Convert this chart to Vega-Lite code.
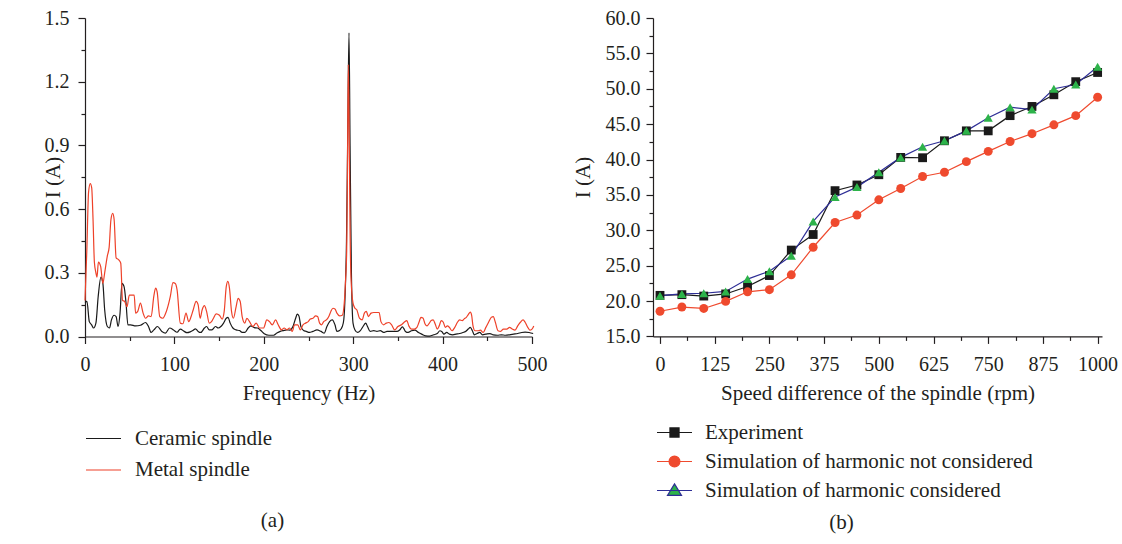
{
  "$schema": "https://vega.github.io/schema/vega-lite/v6.json",
  "background": "white",
  "padding": {"left": 42, "top": 8, "right": 2, "bottom": 2},
  "bounds": "flush",
  "spacing": 121,
  "resolve": {
    "scale": {"color": "independent", "shape": "independent", "fill": "independent"},
    "legend": {"color": "independent", "shape": "independent", "fill": "independent"}
  },
  "config": {
    "font": "Liberation Serif",
    "view": {"stroke": null},
    "axis": {
      "labelFont": "Liberation Serif", "titleFont": "Liberation Serif",
      "labelFontSize": 20, "titleFontSize": 21, "titleFontWeight": "normal",
      "labelColor": "#231f20", "titleColor": "#231f20",
      "domainColor": "#231f20", "tickColor": "#231f20",
      "domainWidth": 1.2, "tickWidth": 1.2, "grid": false
    },
    "legend": {"labelFont": "Liberation Serif", "labelFontSize": 21, "labelColor": "#231f20", "padding": 0, "labelLimit": 500},
    "title": {"font": "Liberation Serif", "fontSize": 21, "fontWeight": "normal", "color": "#231f20"}
  },
  "datasets": {
    "spectrum": [
      {"f":0,"s":"Ceramic spindle","i":0.16},{"f":2.2,"s":"Ceramic spindle","i":0.165},{"f":4.8,"s":"Ceramic spindle","i":0.07},{"f":7.4,"s":"Ceramic spindle","i":0.055},{"f":9.6,"s":"Ceramic spindle","i":0.04},{"f":12.2,"s":"Ceramic spindle","i":0.063},{"f":14.8,"s":"Ceramic spindle","i":0.19},{"f":17.8,"s":"Ceramic spindle","i":0.28},{"f":20,"s":"Ceramic spindle","i":0.25},{"f":22,"s":"Ceramic spindle","i":0.126},{"f":25,"s":"Ceramic spindle","i":0.047},{"f":27.4,"s":"Ceramic spindle","i":0.04},{"f":29.6,"s":"Ceramic spindle","i":0.078},{"f":32.6,"s":"Ceramic spindle","i":0.1},{"f":34.8,"s":"Ceramic spindle","i":0.094},{"f":37,"s":"Ceramic spindle","i":0.047},{"f":39.2,"s":"Ceramic spindle","i":0.11},{"f":41.4,"s":"Ceramic spindle","i":0.25},{"f":43.7,"s":"Ceramic spindle","i":0.235},{"f":45.9,"s":"Ceramic spindle","i":0.157},{"f":48,"s":"Ceramic spindle","i":0.055},{"f":51,"s":"Ceramic spindle","i":0.055},{"f":56.6,"s":"Ceramic spindle","i":0.05},{"f":62,"s":"Ceramic spindle","i":0.053},{"f":67.7,"s":"Ceramic spindle","i":0.066},{"f":71,"s":"Ceramic spindle","i":0.047},{"f":74,"s":"Ceramic spindle","i":0.019},{"f":77,"s":"Ceramic spindle","i":0.031},{"f":81,"s":"Ceramic spindle","i":0.047},{"f":86,"s":"Ceramic spindle","i":0.024},{"f":90,"s":"Ceramic spindle","i":0.016},{"f":94.7,"s":"Ceramic spindle","i":0.04},{"f":99,"s":"Ceramic spindle","i":0.031},{"f":103,"s":"Ceramic spindle","i":0.02},{"f":106.6,"s":"Ceramic spindle","i":0.035},{"f":111,"s":"Ceramic spindle","i":0.024},{"f":114,"s":"Ceramic spindle","i":0.018},{"f":117.7,"s":"Ceramic spindle","i":0.022},{"f":120.6,"s":"Ceramic spindle","i":0.028},{"f":123.6,"s":"Ceramic spindle","i":0.036},{"f":126.5,"s":"Ceramic spindle","i":0.024},{"f":129.5,"s":"Ceramic spindle","i":0.019},{"f":133.6,"s":"Ceramic spindle","i":0.04},{"f":136,"s":"Ceramic spindle","i":0.047},{"f":139,"s":"Ceramic spindle","i":0.031},{"f":142,"s":"Ceramic spindle","i":0.031},{"f":146,"s":"Ceramic spindle","i":0.047},{"f":149,"s":"Ceramic spindle","i":0.04},{"f":152,"s":"Ceramic spindle","i":0.047},{"f":155,"s":"Ceramic spindle","i":0.063},{"f":158,"s":"Ceramic spindle","i":0.086},{"f":160,"s":"Ceramic spindle","i":0.09},{"f":162.4,"s":"Ceramic spindle","i":0.063},{"f":165.4,"s":"Ceramic spindle","i":0.04},{"f":169,"s":"Ceramic spindle","i":0.031},{"f":172.8,"s":"Ceramic spindle","i":0.028},{"f":175.8,"s":"Ceramic spindle","i":0.019},{"f":179,"s":"Ceramic spindle","i":0.019},{"f":182.5,"s":"Ceramic spindle","i":0.04},{"f":185.5,"s":"Ceramic spindle","i":0.05},{"f":189.3,"s":"Ceramic spindle","i":0.042},{"f":193,"s":"Ceramic spindle","i":0.04},{"f":196.7,"s":"Ceramic spindle","i":0.028},{"f":200.5,"s":"Ceramic spindle","i":0.013},{"f":205.7,"s":"Ceramic spindle","i":0.006},{"f":211,"s":"Ceramic spindle","i":0.006},{"f":214.6,"s":"Ceramic spindle","i":0.016},{"f":218.4,"s":"Ceramic spindle","i":0.024},{"f":222,"s":"Ceramic spindle","i":0.028},{"f":225.8,"s":"Ceramic spindle","i":0.031},{"f":229,"s":"Ceramic spindle","i":0.03},{"f":232.6,"s":"Ceramic spindle","i":0.047},{"f":235.6,"s":"Ceramic spindle","i":0.086},{"f":237.4,"s":"Ceramic spindle","i":0.105},{"f":239.3,"s":"Ceramic spindle","i":0.097},{"f":241.5,"s":"Ceramic spindle","i":0.047},{"f":244.5,"s":"Ceramic spindle","i":0.028},{"f":247.5,"s":"Ceramic spindle","i":0.024},{"f":251,"s":"Ceramic spindle","i":0.019},{"f":255,"s":"Ceramic spindle","i":0.024},{"f":259.5,"s":"Ceramic spindle","i":0.031},{"f":264,"s":"Ceramic spindle","i":0.024},{"f":267.7,"s":"Ceramic spindle","i":0.016},{"f":270.6,"s":"Ceramic spindle","i":0.047},{"f":273.6,"s":"Ceramic spindle","i":0.07},{"f":276.6,"s":"Ceramic spindle","i":0.078},{"f":279.6,"s":"Ceramic spindle","i":0.055},{"f":281.8,"s":"Ceramic spindle","i":0.024},{"f":284.8,"s":"Ceramic spindle","i":0.028},{"f":287.8,"s":"Ceramic spindle","i":0.047},{"f":289.5,"s":"Ceramic spindle","i":0.08},{"f":291,"s":"Ceramic spindle","i":0.2},{"f":292.5,"s":"Ceramic spindle","i":0.45},{"f":294,"s":"Ceramic spindle","i":1.0},{"f":295.3,"s":"Ceramic spindle","i":1.43},{"f":296.5,"s":"Ceramic spindle","i":0.9},{"f":298,"s":"Ceramic spindle","i":0.3},{"f":299.8,"s":"Ceramic spindle","i":0.063},{"f":302,"s":"Ceramic spindle","i":0.031},{"f":305,"s":"Ceramic spindle","i":0.019},{"f":308,"s":"Ceramic spindle","i":0.028},{"f":311,"s":"Ceramic spindle","i":0.047},{"f":314,"s":"Ceramic spindle","i":0.063},{"f":316,"s":"Ceramic spindle","i":0.047},{"f":319,"s":"Ceramic spindle","i":0.024},{"f":323,"s":"Ceramic spindle","i":0.028},{"f":326.6,"s":"Ceramic spindle","i":0.024},{"f":330.4,"s":"Ceramic spindle","i":0.028},{"f":334,"s":"Ceramic spindle","i":0.019},{"f":337.8,"s":"Ceramic spindle","i":0.024},{"f":341.5,"s":"Ceramic spindle","i":0.024},{"f":345.3,"s":"Ceramic spindle","i":0.024},{"f":349,"s":"Ceramic spindle","i":0.024},{"f":352,"s":"Ceramic spindle","i":0.031},{"f":355,"s":"Ceramic spindle","i":0.045},{"f":356.5,"s":"Ceramic spindle","i":0.038},{"f":358.4,"s":"Ceramic spindle","i":0.024},{"f":361.5,"s":"Ceramic spindle","i":0.019},{"f":365.2,"s":"Ceramic spindle","i":0.027},{"f":369,"s":"Ceramic spindle","i":0.03},{"f":373,"s":"Ceramic spindle","i":0.019},{"f":376.6,"s":"Ceramic spindle","i":0.011},{"f":381,"s":"Ceramic spindle","i":0.003},{"f":385.7,"s":"Ceramic spindle","i":0.002},{"f":390,"s":"Ceramic spindle","i":0.008},{"f":394,"s":"Ceramic spindle","i":0.014},{"f":397,"s":"Ceramic spindle","i":0.027},{"f":399.3,"s":"Ceramic spindle","i":0.022},{"f":401.5,"s":"Ceramic spindle","i":0.011},{"f":404.6,"s":"Ceramic spindle","i":0.019},{"f":407.6,"s":"Ceramic spindle","i":0.011},{"f":411.4,"s":"Ceramic spindle","i":0.008},{"f":415,"s":"Ceramic spindle","i":0.011},{"f":419,"s":"Ceramic spindle","i":0.014},{"f":422.7,"s":"Ceramic spindle","i":0.019},{"f":425.7,"s":"Ceramic spindle","i":0.024},{"f":428.7,"s":"Ceramic spindle","i":0.035},{"f":431,"s":"Ceramic spindle","i":0.043},{"f":433.3,"s":"Ceramic spindle","i":0.027},{"f":435.5,"s":"Ceramic spindle","i":0.008},{"f":438.6,"s":"Ceramic spindle","i":0.014},{"f":441.6,"s":"Ceramic spindle","i":0.019},{"f":444.6,"s":"Ceramic spindle","i":0.008},{"f":448.4,"s":"Ceramic spindle","i":0.011},{"f":453,"s":"Ceramic spindle","i":0.014},{"f":456.7,"s":"Ceramic spindle","i":0.008},{"f":461.3,"s":"Ceramic spindle","i":0.006},{"f":465.8,"s":"Ceramic spindle","i":0.008},{"f":470.3,"s":"Ceramic spindle","i":0.006},{"f":475,"s":"Ceramic spindle","i":0.008},{"f":479.4,"s":"Ceramic spindle","i":0.011},{"f":484,"s":"Ceramic spindle","i":0.014},{"f":488.5,"s":"Ceramic spindle","i":0.019},{"f":492.3,"s":"Ceramic spindle","i":0.021},{"f":496.8,"s":"Ceramic spindle","i":0.019},{"f":501.3,"s":"Ceramic spindle","i":0.014},
      {"f":0,"s":"Metal spindle","i":0.17},{"f":2,"s":"Metal spindle","i":0.4},{"f":4,"s":"Metal spindle","i":0.68},{"f":5.9,"s":"Metal spindle","i":0.72},{"f":7.5,"s":"Metal spindle","i":0.7},{"f":9,"s":"Metal spindle","i":0.55},{"f":10.5,"s":"Metal spindle","i":0.35},{"f":12.2,"s":"Metal spindle","i":0.3},{"f":13.4,"s":"Metal spindle","i":0.28},{"f":15,"s":"Metal spindle","i":0.35},{"f":17.5,"s":"Metal spindle","i":0.33},{"f":20,"s":"Metal spindle","i":0.25},{"f":22,"s":"Metal spindle","i":0.3},{"f":25,"s":"Metal spindle","i":0.38},{"f":27,"s":"Metal spindle","i":0.42},{"f":29,"s":"Metal spindle","i":0.55},{"f":31,"s":"Metal spindle","i":0.58},{"f":32.6,"s":"Metal spindle","i":0.55},{"f":34.8,"s":"Metal spindle","i":0.37},{"f":38,"s":"Metal spindle","i":0.36},{"f":40,"s":"Metal spindle","i":0.345},{"f":42,"s":"Metal spindle","i":0.17},{"f":44.4,"s":"Metal spindle","i":0.165},{"f":47,"s":"Metal spindle","i":0.14},{"f":49.6,"s":"Metal spindle","i":0.195},{"f":55,"s":"Metal spindle","i":0.195},{"f":56.6,"s":"Metal spindle","i":0.11},{"f":59,"s":"Metal spindle","i":0.118},{"f":62,"s":"Metal spindle","i":0.157},{"f":65,"s":"Metal spindle","i":0.11},{"f":67.7,"s":"Metal spindle","i":0.086},{"f":71,"s":"Metal spindle","i":0.097},{"f":74,"s":"Metal spindle","i":0.094},{"f":77,"s":"Metal spindle","i":0.19},{"f":79,"s":"Metal spindle","i":0.228},{"f":80.7,"s":"Metal spindle","i":0.21},{"f":83.6,"s":"Metal spindle","i":0.094},{"f":87,"s":"Metal spindle","i":0.086},{"f":91,"s":"Metal spindle","i":0.118},{"f":95.5,"s":"Metal spindle","i":0.19},{"f":98.4,"s":"Metal spindle","i":0.254},{"f":101,"s":"Metal spindle","i":0.25},{"f":103,"s":"Metal spindle","i":0.22},{"f":106.6,"s":"Metal spindle","i":0.063},{"f":109.5,"s":"Metal spindle","i":0.06},{"f":113,"s":"Metal spindle","i":0.11},{"f":116,"s":"Metal spindle","i":0.07},{"f":118.7,"s":"Metal spindle","i":0.094},{"f":121,"s":"Metal spindle","i":0.125},{"f":124.3,"s":"Metal spindle","i":0.165},{"f":126.5,"s":"Metal spindle","i":0.15},{"f":128.8,"s":"Metal spindle","i":0.086},{"f":131,"s":"Metal spindle","i":0.125},{"f":133.6,"s":"Metal spindle","i":0.145},{"f":136,"s":"Metal spindle","i":0.118},{"f":139,"s":"Metal spindle","i":0.063},{"f":141.5,"s":"Metal spindle","i":0.07},{"f":143.7,"s":"Metal spindle","i":0.086},{"f":146.7,"s":"Metal spindle","i":0.107},{"f":150.4,"s":"Metal spindle","i":0.1},{"f":153.4,"s":"Metal spindle","i":0.082},{"f":155.7,"s":"Metal spindle","i":0.118},{"f":158,"s":"Metal spindle","i":0.235},{"f":159.8,"s":"Metal spindle","i":0.26},{"f":161.6,"s":"Metal spindle","i":0.228},{"f":163.9,"s":"Metal spindle","i":0.118},{"f":166,"s":"Metal spindle","i":0.086},{"f":169,"s":"Metal spindle","i":0.14},{"f":171.3,"s":"Metal spindle","i":0.18},{"f":173.6,"s":"Metal spindle","i":0.165},{"f":175.8,"s":"Metal spindle","i":0.094},{"f":178.8,"s":"Metal spindle","i":0.063},{"f":181,"s":"Metal spindle","i":0.086},{"f":184,"s":"Metal spindle","i":0.07},{"f":187.8,"s":"Metal spindle","i":0.047},{"f":191.5,"s":"Metal spindle","i":0.063},{"f":195.2,"s":"Metal spindle","i":0.04},{"f":199.7,"s":"Metal spindle","i":0.04},{"f":203.4,"s":"Metal spindle","i":0.078},{"f":206.4,"s":"Metal spindle","i":0.07},{"f":209.4,"s":"Metal spindle","i":0.055},{"f":213.2,"s":"Metal spindle","i":0.078},{"f":216.1,"s":"Metal spindle","i":0.055},{"f":219.9,"s":"Metal spindle","i":0.031},{"f":222.8,"s":"Metal spindle","i":0.04},{"f":225.8,"s":"Metal spindle","i":0.031},{"f":228.8,"s":"Metal spindle","i":0.04},{"f":231.8,"s":"Metal spindle","i":0.024},{"f":234.4,"s":"Metal spindle","i":0.055},{"f":238,"s":"Metal spindle","i":0.055},{"f":240.8,"s":"Metal spindle","i":0.031},{"f":243.8,"s":"Metal spindle","i":0.055},{"f":246.7,"s":"Metal spindle","i":0.063},{"f":249.7,"s":"Metal spindle","i":0.07},{"f":252,"s":"Metal spindle","i":0.082},{"f":255,"s":"Metal spindle","i":0.086},{"f":258,"s":"Metal spindle","i":0.097},{"f":260.2,"s":"Metal spindle","i":0.094},{"f":262.4,"s":"Metal spindle","i":0.063},{"f":264.7,"s":"Metal spindle","i":0.055},{"f":267,"s":"Metal spindle","i":0.07},{"f":270,"s":"Metal spindle","i":0.078},{"f":273,"s":"Metal spindle","i":0.097},{"f":275,"s":"Metal spindle","i":0.118},{"f":277.4,"s":"Metal spindle","i":0.133},{"f":279.6,"s":"Metal spindle","i":0.13},{"f":281.8,"s":"Metal spindle","i":0.11},{"f":284.8,"s":"Metal spindle","i":0.097},{"f":287.8,"s":"Metal spindle","i":0.1},{"f":290,"s":"Metal spindle","i":0.157},{"f":291.5,"s":"Metal spindle","i":0.27},{"f":292.7,"s":"Metal spindle","i":0.4},{"f":293.7,"s":"Metal spindle","i":0.85},{"f":294.5,"s":"Metal spindle","i":1.28},{"f":295.4,"s":"Metal spindle","i":1.0},{"f":296.5,"s":"Metal spindle","i":0.5},{"f":297.5,"s":"Metal spindle","i":0.28},{"f":299.8,"s":"Metal spindle","i":0.157},{"f":302,"s":"Metal spindle","i":0.133},{"f":304,"s":"Metal spindle","i":0.126},{"f":307,"s":"Metal spindle","i":0.086},{"f":310,"s":"Metal spindle","i":0.078},{"f":312.5,"s":"Metal spindle","i":0.11},{"f":314.7,"s":"Metal spindle","i":0.118},{"f":317,"s":"Metal spindle","i":0.094},{"f":320,"s":"Metal spindle","i":0.11},{"f":323,"s":"Metal spindle","i":0.113},{"f":326,"s":"Metal spindle","i":0.113},{"f":329,"s":"Metal spindle","i":0.113},{"f":331,"s":"Metal spindle","i":0.07},{"f":334,"s":"Metal spindle","i":0.055},{"f":337,"s":"Metal spindle","i":0.063},{"f":340,"s":"Metal spindle","i":0.066},{"f":343,"s":"Metal spindle","i":0.055},{"f":346.4,"s":"Metal spindle","i":0.031},{"f":350,"s":"Metal spindle","i":0.047},{"f":354,"s":"Metal spindle","i":0.055},{"f":357,"s":"Metal spindle","i":0.067},{"f":360,"s":"Metal spindle","i":0.075},{"f":362.2,"s":"Metal spindle","i":0.05},{"f":365.2,"s":"Metal spindle","i":0.035},{"f":368.3,"s":"Metal spindle","i":0.035},{"f":371.3,"s":"Metal spindle","i":0.043},{"f":373.6,"s":"Metal spindle","i":0.067},{"f":375.8,"s":"Metal spindle","i":0.09},{"f":378,"s":"Metal spindle","i":0.087},{"f":380.4,"s":"Metal spindle","i":0.059},{"f":382.6,"s":"Metal spindle","i":0.05},{"f":385,"s":"Metal spindle","i":0.062},{"f":387.2,"s":"Metal spindle","i":0.075},{"f":389.4,"s":"Metal spindle","i":0.078},{"f":391.7,"s":"Metal spindle","i":0.059},{"f":394,"s":"Metal spindle","i":0.035},{"f":396.2,"s":"Metal spindle","i":0.05},{"f":398.5,"s":"Metal spindle","i":0.075},{"f":400.8,"s":"Metal spindle","i":0.067},{"f":403,"s":"Metal spindle","i":0.043},{"f":405.3,"s":"Metal spindle","i":0.05},{"f":407.6,"s":"Metal spindle","i":0.043},{"f":410.6,"s":"Metal spindle","i":0.027},{"f":413.6,"s":"Metal spindle","i":0.043},{"f":416.6,"s":"Metal spindle","i":0.067},{"f":419,"s":"Metal spindle","i":0.078},{"f":422,"s":"Metal spindle","i":0.075},{"f":424.2,"s":"Metal spindle","i":0.083},{"f":426.5,"s":"Metal spindle","i":0.09},{"f":428.7,"s":"Metal spindle","i":0.103},{"f":431,"s":"Metal spindle","i":0.115},{"f":432.5,"s":"Metal spindle","i":0.1},{"f":434,"s":"Metal spindle","i":0.05},{"f":436.3,"s":"Metal spindle","i":0.027},{"f":439.3,"s":"Metal spindle","i":0.027},{"f":442.3,"s":"Metal spindle","i":0.03},{"f":445.4,"s":"Metal spindle","i":0.019},{"f":448.4,"s":"Metal spindle","i":0.043},{"f":451.4,"s":"Metal spindle","i":0.067},{"f":454.4,"s":"Metal spindle","i":0.09},{"f":456.7,"s":"Metal spindle","i":0.094},{"f":459,"s":"Metal spindle","i":0.067},{"f":462,"s":"Metal spindle","i":0.027},{"f":465,"s":"Metal spindle","i":0.024},{"f":468,"s":"Metal spindle","i":0.035},{"f":471.8,"s":"Metal spindle","i":0.035},{"f":474.9,"s":"Metal spindle","i":0.043},{"f":477.9,"s":"Metal spindle","i":0.035},{"f":481,"s":"Metal spindle","i":0.03},{"f":484,"s":"Metal spindle","i":0.05},{"f":487,"s":"Metal spindle","i":0.067},{"f":490,"s":"Metal spindle","i":0.078},{"f":492.3,"s":"Metal spindle","i":0.067},{"f":495.3,"s":"Metal spindle","i":0.043},{"f":497.5,"s":"Metal spindle","i":0.03},{"f":500,"s":"Metal spindle","i":0.035},{"f":502,"s":"Metal spindle","i":0.05}
    ],
    "speed": [
      {"rpm":0,"s":"Experiment","i":20.8},{"rpm":50,"s":"Experiment","i":20.9},{"rpm":100,"s":"Experiment","i":20.7},{"rpm":150,"s":"Experiment","i":21.0},{"rpm":200,"s":"Experiment","i":22.05},{"rpm":250,"s":"Experiment","i":23.6},{"rpm":300,"s":"Experiment","i":27.2},{"rpm":350,"s":"Experiment","i":29.4},{"rpm":400,"s":"Experiment","i":35.6},{"rpm":450,"s":"Experiment","i":36.4},{"rpm":500,"s":"Experiment","i":37.85},{"rpm":550,"s":"Experiment","i":40.3},{"rpm":600,"s":"Experiment","i":40.25},{"rpm":650,"s":"Experiment","i":42.65},{"rpm":700,"s":"Experiment","i":44.05},{"rpm":750,"s":"Experiment","i":44.05},{"rpm":800,"s":"Experiment","i":46.2},{"rpm":850,"s":"Experiment","i":47.5},{"rpm":900,"s":"Experiment","i":49.15},{"rpm":950,"s":"Experiment","i":51.0},{"rpm":1000,"s":"Experiment","i":52.3},
      {"rpm":0,"s":"Simulation of harmonic not considered","i":18.55},{"rpm":50,"s":"Simulation of harmonic not considered","i":19.15},{"rpm":100,"s":"Simulation of harmonic not considered","i":18.95},{"rpm":150,"s":"Simulation of harmonic not considered","i":19.95},{"rpm":200,"s":"Simulation of harmonic not considered","i":21.3},{"rpm":250,"s":"Simulation of harmonic not considered","i":21.6},{"rpm":300,"s":"Simulation of harmonic not considered","i":23.7},{"rpm":350,"s":"Simulation of harmonic not considered","i":27.6},{"rpm":400,"s":"Simulation of harmonic not considered","i":31.1},{"rpm":450,"s":"Simulation of harmonic not considered","i":32.15},{"rpm":500,"s":"Simulation of harmonic not considered","i":34.3},{"rpm":550,"s":"Simulation of harmonic not considered","i":35.9},{"rpm":600,"s":"Simulation of harmonic not considered","i":37.6},{"rpm":650,"s":"Simulation of harmonic not considered","i":38.2},{"rpm":700,"s":"Simulation of harmonic not considered","i":39.7},{"rpm":750,"s":"Simulation of harmonic not considered","i":41.15},{"rpm":800,"s":"Simulation of harmonic not considered","i":42.55},{"rpm":850,"s":"Simulation of harmonic not considered","i":43.65},{"rpm":900,"s":"Simulation of harmonic not considered","i":44.9},{"rpm":950,"s":"Simulation of harmonic not considered","i":46.2},{"rpm":1000,"s":"Simulation of harmonic not considered","i":48.8},
      {"rpm":0,"s":"Simulation of harmonic considered","i":20.75},{"rpm":50,"s":"Simulation of harmonic considered","i":21.0},{"rpm":100,"s":"Simulation of harmonic considered","i":21.1},{"rpm":150,"s":"Simulation of harmonic considered","i":21.35},{"rpm":200,"s":"Simulation of harmonic considered","i":23.1},{"rpm":250,"s":"Simulation of harmonic considered","i":24.2},{"rpm":300,"s":"Simulation of harmonic considered","i":26.4},{"rpm":350,"s":"Simulation of harmonic considered","i":31.25},{"rpm":400,"s":"Simulation of harmonic considered","i":34.7},{"rpm":450,"s":"Simulation of harmonic considered","i":36.1},{"rpm":500,"s":"Simulation of harmonic considered","i":38.2},{"rpm":550,"s":"Simulation of harmonic considered","i":40.3},{"rpm":600,"s":"Simulation of harmonic considered","i":41.8},{"rpm":650,"s":"Simulation of harmonic considered","i":42.65},{"rpm":700,"s":"Simulation of harmonic considered","i":44.05},{"rpm":750,"s":"Simulation of harmonic considered","i":45.9},{"rpm":800,"s":"Simulation of harmonic considered","i":47.4},{"rpm":850,"s":"Simulation of harmonic considered","i":47.05},{"rpm":900,"s":"Simulation of harmonic considered","i":50.0},{"rpm":950,"s":"Simulation of harmonic considered","i":50.6},{"rpm":1000,"s":"Simulation of harmonic considered","i":53.1}
    ]
  },
  "hconcat": [
    {
      "width": 447,
      "height": 318.5,
      "title": {"text": "(a)", "orient": "bottom", "frame": "group", "anchor": "middle", "dx": -36, "offset": 30},
      "data": {"name": "spectrum"},
      "mark": {"type": "line", "strokeWidth": 1.2, "interpolate": "monotone", "clip": false},
      "encoding": {
        "x": {
          "field": "f", "type": "quantitative",
          "scale": {"domain": [0, 500], "nice": false, "zero": false},
          "axis": {
            "title": "Frequency (Hz)",
            "values": [0, 50, 100, 150, 200, 250, 300, 350, 400, 450, 500],
            "labelExpr": "datum.value % 100 === 0 ? datum.label : ''",
            "tickSize": {"condition": {"test": "datum.value % 100 === 0", "value": 7}, "value": 4},
            "labelPadding": 11, "titlePadding": 8, "labelFlush": false, "labelOverlap": false
          }
        },
        "y": {
          "field": "i", "type": "quantitative",
          "scale": {"domain": [0, 1.5], "nice": false},
          "axis": {
            "title": "I (A)",
            "values": [0, 0.15, 0.3, 0.45, 0.6, 0.75, 0.9, 1.05, 1.2, 1.35, 1.5],
            "format": ".1f",
            "labelExpr": "abs(datum.value / 0.3 - round(datum.value / 0.3)) < 0.01 ? datum.label : ''",
            "tickSize": {"condition": {"test": "abs(datum.value / 0.3 - round(datum.value / 0.3)) < 0.01", "value": 7}, "value": 4},
            "labelPadding": 9, "labelFlush": false, "labelOverlap": false,
            "titleX": -32, "titleY": 159, "titleAngle": -90, "titleAlign": "center", "titleBaseline": "middle"
          }
        },
        "color": {
          "field": "s", "type": "nominal",
          "scale": {"domain": ["Ceramic spindle", "Metal spindle"], "range": ["#1a1a1a", "#ee4129"]},
          "legend": {
            "orient": "none", "legendX": 0, "legendY": 402, "title": null,
            "symbolType": "stroke", "symbolSize": 1225, "symbolStrokeWidth": 1.2,
            "labelOffset": 13, "rowPadding": 2.5
          }
        }
      }
    },
    {
      "width": 449,
      "height": 318.4,
      "title": {"text": "(b)", "orient": "bottom", "frame": "group", "anchor": "middle", "dx": -36, "offset": 11},
      "data": {"name": "speed"},
      "encoding": {
        "x": {
          "field": "rpm", "type": "quantitative",
          "scale": {"domain": [-16, 1010], "nice": false, "zero": false},
          "axis": {
            "title": "Speed difference of the spindle (rpm)",
            "values": [0, 62.5, 125, 187.5, 250, 312.5, 375, 437.5, 500, 562.5, 625, 687.5, 750, 812.5, 875, 937.5, 1000],
            "format": "d",
            "labelExpr": "datum.value % 125 === 0 ? datum.label : ''",
            "tickSize": {"condition": {"test": "datum.value % 125 === 0", "value": 7}, "value": 4},
            "labelPadding": 11, "titlePadding": 8, "labelFlush": false, "labelOverlap": false
          }
        },
        "y": {
          "field": "i", "type": "quantitative",
          "scale": {"domain": [15, 60], "nice": false, "zero": false},
          "axis": {
            "title": "I (A)",
            "values": [15, 17.5, 20, 22.5, 25, 27.5, 30, 32.5, 35, 37.5, 40, 42.5, 45, 47.5, 50, 52.5, 55, 57.5, 60],
            "format": ".1f",
            "labelExpr": "datum.value % 5 === 0 ? datum.label : ''",
            "tickSize": {"condition": {"test": "datum.value % 5 === 0", "value": 7}, "value": 4},
            "labelPadding": 6, "labelFlush": false, "labelOverlap": false,
            "titleX": -70, "titleY": 159, "titleAngle": -90, "titleAlign": "center", "titleBaseline": "middle"
          }
        }
      },
      "layer": [
        {
          "mark": {"type": "line", "strokeWidth": 1.2},
          "encoding": {
            "color": {
              "field": "s", "type": "nominal",
              "scale": {"domain": ["Experiment", "Simulation of harmonic not considered", "Simulation of harmonic considered"], "range": ["#1a1a1a", "#ef4a2e", "#2e2e96"]},
              "legend": {
                "orient": "none", "legendX": 3, "legendY": 396, "title": null,
                "symbolType": "stroke", "symbolSize": 1225, "symbolStrokeWidth": 1.2, "labelOffset": 12, "rowPadding": 0,
                "encode": {
                  "symbols": {
                    "update": {
                      "fill": {"signal": "datum.value === 'Experiment' ? '#1a1a1a' : datum.value === 'Simulation of harmonic not considered' ? '#ef4a2e' : '#2db34a'"},
                      "fillOpacity": {"value": 1},
                      "strokeOpacity": {"value": 1},
                      "opacity": {"value": 1},
                      "strokeWidth": {"value": 1.2}
                    }
                  }
                }
              }
            }
          }
        },
        {
          "transform": [{"filter": "datum.s === 'Experiment'"}],
          "mark": {"type": "point", "shape": "square", "filled": true, "color": "#1a1a1a", "size": 78, "opacity": 1}
        },
        {
          "transform": [{"filter": "datum.s === 'Simulation of harmonic not considered'"}],
          "mark": {"type": "point", "shape": "circle", "filled": true, "color": "#ef4a2e", "size": 80, "opacity": 1}
        },
        {
          "transform": [{"filter": "datum.s === 'Simulation of harmonic considered'"}],
          "mark": {"type": "point", "shape": "triangle-up", "filled": true, "color": "#2db34a", "size": 85, "opacity": 1}
        },
        {
          "mark": {"type": "point", "filled": true, "opacity": 0},
          "encoding": {
            "shape": {
              "field": "s", "type": "nominal",
              "scale": {"domain": ["Experiment", "Simulation of harmonic not considered", "Simulation of harmonic considered"], "range": ["M-1,0H1M-0.26,-0.26H0.26V0.26H-0.26Z", "M-1,0H1M-0.31,0A0.31,0.31,0,1,1,0.31,0A0.31,0.31,0,1,1,-0.31,0Z", "M-1,0H1M0,-0.38L0.4,0.28H-0.4Z"]},
              "legend": null
            }
          }
        }
      ]
    }
  ]
}
